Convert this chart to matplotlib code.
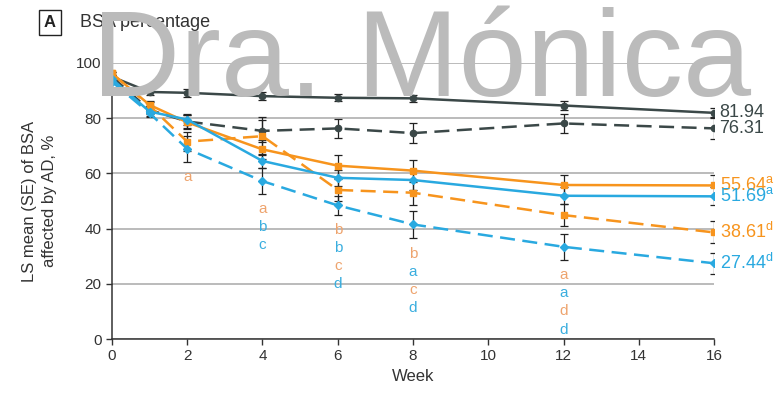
import numpy as np
import matplotlib
matplotlib.use("Agg")
import matplotlib.pyplot as plt

plt.rcParams['font.family'] = ['Liberation Sans', 'DejaVu Sans']
plt.rcParams['mathtext.fontset'] = 'custom'
plt.rcParams['mathtext.rm'] = 'Liberation Sans'

# data
weeks = [0, 1, 2, 4, 6, 8, 12, 16]

dark_solid = [95.0, 89.5, 89.2, 88.0, 87.4, 87.2, 84.6, 81.94]
dark_solid_se = [0.5, 1.0, 1.5, 1.5, 1.3, 1.3, 1.6, 1.8]
dark_dash = [95.0, 83.0, 78.8, 75.4, 76.3, 74.6, 78.1, 76.31]
dark_dash_se = [0.5, 1.5, 2.5, 4.0, 3.3, 3.6, 3.3, 4.0]

orange_solid = [96.2, 84.8, 78.5, 68.7, 62.8, 61.0, 55.8, 55.64]
orange_solid_se = [0.5, 1.5, 2.5, 3.5, 4.0, 4.0, 3.6, 3.8]
orange_dash = [96.2, 84.5, 71.5, 73.5, 54.0, 53.0, 44.9, 38.61]
orange_dash_se = [0.5, 1.5, 3.5, 7.0, 4.0, 4.5, 4.0, 4.0]

blue_solid = [94.2, 82.4, 79.5, 64.5, 58.4, 57.6, 51.9, 51.69]
blue_solid_se = [0.5, 1.5, 2.0, 2.5, 3.0, 3.5, 3.0, 3.3]
blue_dash = [93.2, 81.8, 68.9, 57.2, 48.4, 41.5, 33.4, 27.44]
blue_dash_se = [0.5, 1.5, 4.8, 4.7, 3.4, 5.0, 4.8, 3.9]

# end labels, same order as the series below
end_labels = ["81.94", "76.31",
              "55.64$^{\\mathregular{a}}$", "38.61$^{\\mathregular{d}}$",
              "51.69$^{\\mathregular{a}}$", "27.44$^{\\mathregular{d}}$"]

# significance letters per week ("o" = orange, "b" = blue)
letter_weeks = [2, 4, 6, 8, 12]
letter_text = [["a"], ["a", "b", "c"], ["b", "b", "c", "d"], ["b", "a", "c", "d"], ["a", "a", "d", "d"]]
letter_cols = [["o"], ["o", "b", "b"], ["o", "b", "o", "b"], ["o", "b", "o", "b"], ["o", "b", "o", "b"]]

DARK = "#3b4848"
ORANGE = "#f7941d"
BLUE = "#29a9e0"
LET_COL = {"o": "#eea46e", "b": "#3aaedf"}

fig = plt.figure(figsize=(7.77, 3.93), dpi=100)
ax = fig.add_axes([0.1441, 0.1374, 0.919 - 0.1441, 0.8397 - 0.1374])

series = [
    (dark_solid, dark_solid_se, DARK, "-", "o", 4.5),
    (dark_dash, dark_dash_se, DARK, (0, (6, 3)), "o", 4.5),
    (orange_solid, orange_solid_se, ORANGE, "-", "s", 5),
    (orange_dash, orange_dash_se, ORANGE, (0, (6, 3)), "s", 5),
    (blue_solid, blue_solid_se, BLUE, "-", "D", 4),
    (blue_dash, blue_dash_se, BLUE, (0, (6, 3)), "D", 4),
]

for vals, se, col, ls, mk, ms in series:
    ax.errorbar(weeks, vals, yerr=se, fmt="none", ecolor="#222222", elinewidth=0.9,
                capsize=3, capthick=0.9, zorder=3)
    ax.plot(weeks, vals, color=col, linestyle=ls, linewidth=1.8, marker=mk,
            markersize=ms, zorder=4)

# end-of-line value labels
for (vals, se, col, ls, mk, ms), lab in zip(series, end_labels):
    ax.annotate(lab, xy=(weeks[-1], vals[-1]), xytext=(4, 0), textcoords="offset points",
                color=col, fontsize=13, va="center", ha="left", annotation_clip=False)

# significance letters below the lowest error bar
lows = np.min([np.array(v) - np.array(s) for v, s, *_ in series], axis=0)
for wk, txts, cols in zip(letter_weeks, letter_text, letter_cols):
    base = lows[weeks.index(wk)]
    for i, (t, c) in enumerate(zip(txts, cols)):
        ax.annotate(t, xy=(wk, base), xytext=(0, -11 - 13 * i), textcoords="offset points",
                    color=LET_COL[c], fontsize=11, ha="center", va="center")

ax.set_xlim(0, 16)
ax.set_ylim(0, 100)
ax.set_xticks(range(0, 17, 2))
ax.set_yticks(range(0, 101, 20))
ax.tick_params(labelsize=11, colors="#333333", length=4, width=1)
ax.grid(axis="y", color="#b5b5b5", linewidth=1.3)
ax.set_axisbelow(True)
for s in ["top", "right"]:
    ax.spines[s].set_visible(False)
for s in ["left", "bottom"]:
    ax.spines[s].set_color("#333333")
    ax.spines[s].set_linewidth(1.1)

ax.set_xlabel("Week", fontsize=12, color="#333333", labelpad=4)
ax.set_ylabel("LS mean (SE) of BSA\naffected by AD, %", fontsize=12, color="#333333",
              labelpad=14, linespacing=1.4)

fig.text(0.064, 0.944, "A", fontsize=12, fontweight="bold", color="#222222", ha="center", va="center",
         bbox=dict(boxstyle="square,pad=0.3", facecolor="white", edgecolor="#222222", linewidth=1))
fig.text(0.103, 0.944, "BSA percentage", fontsize=13, color="#333333", ha="left", va="center")

# watermark
fig.text(0.543, 0.756, "Dra. Mónica", fontsize=88, color="#bbbbbb", ha="center", va="baseline",
         zorder=10)

fig.savefig("out.png", dpi=100)
